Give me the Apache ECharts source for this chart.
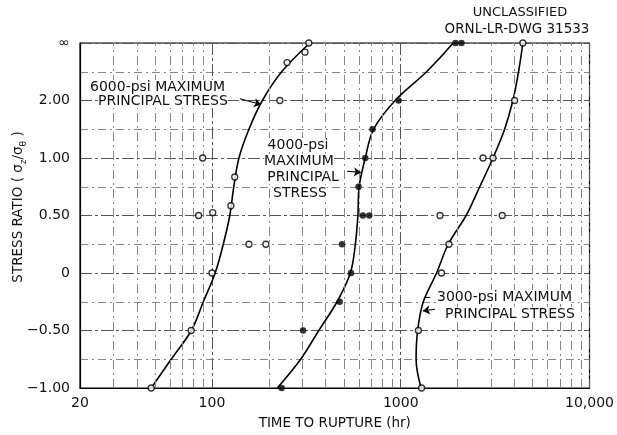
<!DOCTYPE html>
<html>
<head>
<meta charset="utf-8">
<script src="https://cdn.jsdelivr.net/npm/echarts@6/dist/echarts.min.js"></script>
<style>
  html, body { margin: 0; padding: 0; background: #fff; }
  #chart { width: 617px; height: 435px; }
</style>
</head>
<body>
<div id="chart"></div>
<script>
// Stress-ratio axis: equally spaced positions 0..6 carry these labels
const ratioLabels = ['−1.00', '−0.50', '0', '0.50', '1.00', '2.00', '∞'];
// Extra vertical rules between the decades of the log time axis
const minorTimes = [30, 40, 50, 60, 70, 80, 90,
                    200, 300, 400, 500, 600, 700, 800, 900,
                    2000, 3000, 4000, 5000, 6000, 7000, 8000, 9000];

// Test results: [time to rupture (hr), stress-ratio axis position]
const tests6000 = [[47.7, 0], [77.6, 1], [100, 2], [157, 2.5], [193, 2.5],
                   [85, 3], [101, 3.05], [126, 3.17], [132, 3.67], [89.3, 4],
                   [229, 5], [250, 5.66], [311, 5.84], [326, 6]];
const tests4000 = [[234, 0], [304, 1], [475, 1.5], [545, 2], [489, 2.5],
                   [630, 3], [681, 3], [598, 3.5], [649, 4], [709, 4.5],
                   [973, 5], [1950, 6], [2097, 6]];
const tests3000 = [[1290, 0], [1240, 1], [1645, 2], [1800, 2.5], [1614, 3],
                   [3450, 3], [2729, 4], [3081, 4], [4010, 5], [4436, 6]];

// Faired curves through each stress level
const curve6000 = [[47.7, 0], [60.8, 0.5], [77.8, 1], [90, 1.5], [104, 2],
                   [114.8, 2.5], [124.3, 3], [130.5, 3.5], [139, 4], [157, 4.5],
                   [185, 5], [234, 5.5], [330, 6]];
const curve4000 = [[222, 0], [295, 0.5], [368, 1], [460, 1.5], [541, 2],
                   [575, 2.5], [593, 3], [602, 3.5], [649, 4], [718, 4.5],
                   [934, 5], [1371, 5.5], [1896, 6]];
const curve3000 = [[1281, 0], [1206, 0.5], [1229, 1], [1317, 1.5], [1548, 2],
                   [1785, 2.5], [2220, 3], [2621, 3.5], [3081, 4], [3550, 4.5],
                   [3928, 5], [4209, 5.5], [4436, 6]];

// Leader arrows from the curve labels: [from, to]
const arrows = [
  [[140.6, 5.03], [182, 4.93]],
  [[520, 3.77], [615, 3.75]],
  [[1518, 1.37], [1310, 1.34]]
];
const leaders = [[[1345, 1.58], [1435, 1.58]]];

const FONT = 'DejaVu Sans';
const chart = echarts.init(document.getElementById('chart'), null, { renderer: 'canvas' });

function curveSeries(data) {
  return {
    type: 'line', data: data, smooth: 0.35, showSymbol: false, silent: true,
    lineStyle: { color: '#000', width: 1.6 }, z: 3
  };
}
function pointSeries(data, filled) {
  return {
    type: 'scatter', data: data, symbol: 'circle', symbolSize: filled ? 6.5 : 6,
    itemStyle: filled ? { color: '#000' } : { color: '#fff', borderColor: '#000', borderWidth: 1.3 },
    z: 5
  };
}
function label(x, y, text, align) {
  return {
    type: 'text', x: x, y: y, z: 10,
    style: { text: text, fontFamily: FONT, fontSize: 14, fill: '#111', backgroundColor: '#fff',
             align: align, verticalAlign: 'middle' }
  };
}

const option = {
  backgroundColor: '#fff',
  animation: false,
  grid: { left: 80, right: 25, top: 43, bottom: 46, show: true, borderColor: '#000', borderWidth: 1.2 },
  xAxis: {
    type: 'log', logBase: 10, min: 20, max: 10000,
    name: 'TIME TO RUPTURE (hr)', nameLocation: 'middle', nameGap: 28,
    nameTextStyle: { fontFamily: FONT, fontSize: 13.5, color: '#111' },
    axisLine: { lineStyle: { color: '#000', width: 1.2 } },
    axisTick: { show: false },
    axisLabel: {
      fontFamily: FONT, fontSize: 14, color: '#111', margin: 8,
      formatter: v => (Math.round(v) === 10000 ? '10,000' : String(Math.round(v)))
    },
    splitLine: { show: true, lineStyle: { color: '#555', width: 1, type: [12, 3, 3, 3] } }
  },
  yAxis: {
    type: 'value', min: 0, max: 6, interval: 1,
    axisLine: { lineStyle: { color: '#000', width: 1.2 } },
    axisTick: { show: false },
    axisLabel: {
      fontFamily: FONT, fontSize: 14, color: '#111', margin: 10,
      formatter: v => ratioLabels[v]
    },
    splitLine: { show: true, lineStyle: { color: '#555', width: 1, type: [12, 3, 3, 3] } },
    minorTick: { show: false, splitNumber: 2 },
    minorSplitLine: { show: true, lineStyle: { color: '#888', width: 1, type: [8, 4, 2, 4] } }
  },
  series: [
    {
      type: 'line', data: [], silent: true,
      markLine: {
        silent: true, symbol: 'none', animation: false,
        label: { show: false },
        lineStyle: { color: '#888', width: 1, type: [9, 4, 2, 4] },
        data: minorTimes.map(t => ({ xAxis: t }))
      }
    },
    curveSeries(curve6000),
    curveSeries(curve4000),
    curveSeries(curve3000),
    {
      type: 'line', data: [], silent: true, z: 4,
      markLine: {
        silent: true, animation: false, symbol: ['none', 'arrow'], symbolSize: 7,
        label: { show: false },
        lineStyle: { color: '#000', width: 1.1, type: 'solid' },
        data: arrows.map(a => [{ coord: a[0] }, { coord: a[1] }])
      }
    },
    {
      type: 'line', data: [], silent: true, z: 4,
      markLine: {
        silent: true, animation: false, symbol: 'none',
        label: { show: false },
        lineStyle: { color: '#000', width: 1.1, type: 'solid' },
        data: leaders.map(a => [{ coord: a[0] }, { coord: a[1] }])
      }
    },
    pointSeries(tests6000, false),
    pointSeries(tests4000, true),
    pointSeries(tests3000, false)
  ],
  graphic: [
    {
      type: 'text', x: 18, y: 207, rotation: Math.PI / 2, z: 10,
      style: {
        text: 'STRESS RATIO ( σ{sub|z}/σ{sub|θ} )',
        fontFamily: FONT, fontSize: 13.5, fill: '#111', align: 'center', verticalAlign: 'middle',
        rich: { sub: { fontFamily: FONT, fontSize: 9, verticalAlign: 'bottom', lineHeight: 20 } }
      }
    },
    { type: 'text', x: 520, y: 13, z: 10, style: { text: 'UNCLASSIFIED', fontFamily: FONT, fontSize: 13, fill: '#111', align: 'center', verticalAlign: 'middle' } },
    { type: 'text', x: 517, y: 29, z: 10, style: { text: 'ORNL-LR-DWG 31533', fontFamily: FONT, fontSize: 13.5, fill: '#111', align: 'center', verticalAlign: 'middle' } },

    label(90, 87, '6000-psi MAXIMUM', 'left'),
    label(98, 101, 'PRINCIPAL STRESS', 'left'),

    label(298, 145, '4000-psi', 'center'),
    label(299, 161, 'MAXIMUM', 'center'),
    label(303, 177, 'PRINCIPAL', 'center'),
    label(300, 193, 'STRESS', 'center'),

    label(437, 297, '3000-psi MAXIMUM', 'left'),
    label(445, 314, 'PRINCIPAL STRESS', 'left')
  ]
};

chart.setOption(option);
</script>
</body>
</html>
